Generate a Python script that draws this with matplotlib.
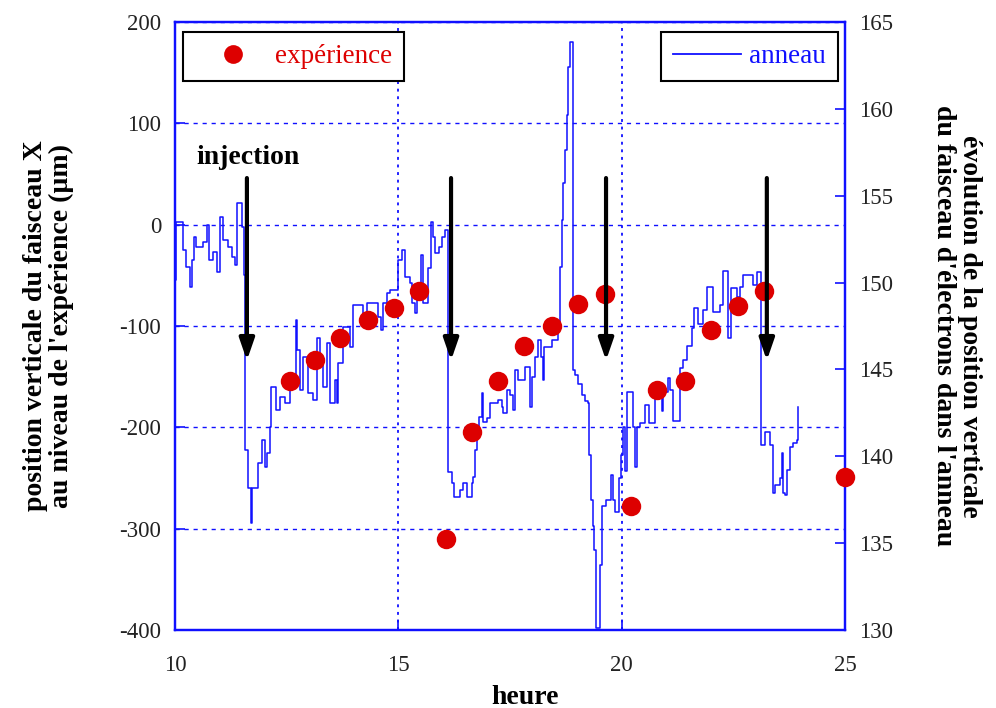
import matplotlib
matplotlib.use("Agg")
import matplotlib.pyplot as plt
from matplotlib.lines import Line2D

plt.rcParams['font.family'] = ['Liberation Serif', 'DejaVu Serif']
plt.rcParams['axes.unicode_minus'] = False

# Measured vertical beam position at the experiment (µm)
exp_hours = [12.57, 13.13, 13.69, 14.32, 14.90, 15.46, 16.07, 16.65, 17.23, 17.81,
             18.44, 19.02, 19.63, 20.21, 20.79, 21.42, 22.00, 22.60, 23.19, 25.00]
exp_pos = [-154, -134, -112, -94, -82, -65, -310, -205, -154, -120,
           -100, -78, -68, -278, -163, -154, -104, -80, -65, -249]

# Vertical position of the electron beam in the storage ring (step record)
ring_hours = [
    10.00, 10.02, 10.18, 10.25, 10.34, 10.38, 10.43, 10.47, 10.63, 10.72,
    10.76, 10.85, 10.94, 11.01, 11.07, 11.19, 11.28, 11.34, 11.39, 11.50,
    11.54, 11.57, 11.63, 11.70, 11.72, 11.86, 11.95, 12.01, 12.06, 12.13,
    12.15, 12.26, 12.35, 12.46, 12.57, 12.71, 12.73, 12.80, 12.87, 12.98,
    13.09, 13.18, 13.25, 13.31, 13.40, 13.47, 13.58, 13.63, 13.65, 13.76,
    13.92, 13.99, 14.21, 14.30, 14.54, 14.61, 14.66, 14.75, 14.81, 14.99,
    15.08, 15.15, 15.26, 15.31, 15.37, 15.42, 15.51, 15.55, 15.66, 15.73,
    15.78, 15.82, 15.91, 15.98, 16.04, 16.11, 16.20, 16.25, 16.38, 16.45,
    16.54, 16.65, 16.67, 16.72, 16.76, 16.81, 16.87, 16.90, 16.99, 17.05,
    17.23, 17.32, 17.34, 17.43, 17.50, 17.57, 17.61, 17.68, 17.84, 17.95,
    17.99, 18.06, 18.13, 18.19, 18.24, 18.26, 18.44, 18.57, 18.62, 18.66,
    18.69, 18.73, 18.78, 18.80, 18.84, 18.91, 18.96, 19.02, 19.11, 19.18,
    19.25, 19.27, 19.31, 19.36, 19.38, 19.43, 19.51, 19.55, 19.65, 19.76,
    19.81, 19.85, 19.94, 19.98, 20.02, 20.04, 20.07, 20.12, 20.25, 20.30,
    20.34, 20.41, 20.52, 20.61, 20.75, 20.90, 20.92, 21.04, 21.08, 21.15,
    21.31, 21.37, 21.46, 21.57, 21.62, 21.72, 21.83, 21.92, 22.05, 22.20,
    22.27, 22.38, 22.44, 22.58, 22.65, 22.72, 22.94, 23.03, 23.12, 23.21,
    23.32, 23.39, 23.43, 23.55, 23.59, 23.61, 23.66, 23.70, 23.77, 23.84,
    23.92, 23.95,
]
ring_pos = [
    150.15, 153.49, 151.87, 150.90, 149.74, 151.30, 152.62, 152.05, 152.34, 153.31,
    151.30, 151.76, 150.61, 153.77, 152.45, 152.05, 151.47, 151.01, 154.58, 153.20,
    150.44, 140.36, 138.17, 136.16, 138.17, 139.61, 140.94, 139.38, 140.19, 141.68,
    143.99, 142.66, 143.41, 143.07, 144.22, 147.85, 146.12, 143.82, 145.71, 143.64,
    143.24, 146.81, 145.37, 143.99, 146.52, 143.07, 144.39, 143.07, 145.37, 147.44,
    146.29, 148.71, 148.02, 148.82, 148.02, 147.27, 148.82, 149.40, 149.57, 151.30,
    151.87, 150.32, 149.97, 148.82, 148.25, 149.00, 151.59, 148.82, 150.84, 153.49,
    152.62, 151.70, 152.05, 152.62, 153.03, 139.09, 138.46, 137.66, 138.06, 138.46,
    137.66, 138.46, 138.81, 140.36, 141.34, 142.26, 143.64, 141.97, 142.20, 143.07,
    143.24, 142.84, 142.49, 143.82, 143.53, 142.66, 144.97, 144.39, 145.14, 142.84,
    144.56, 145.71, 146.69, 145.71, 144.39, 146.29, 146.69, 147.27, 150.90, 153.60,
    155.73, 157.63, 159.65, 162.41, 163.85, 144.97, 144.68, 144.16, 143.53, 143.18,
    143.07, 140.07, 137.48, 135.99, 134.60, 130.10, 133.74, 137.14, 137.48, 138.92,
    137.48, 136.79, 138.75, 140.07, 140.99, 141.68, 139.15, 143.70, 141.68, 139.38,
    141.68, 141.92, 142.95, 141.92, 143.70, 142.61, 143.70, 144.51, 143.82, 142.03,
    145.08, 145.54, 146.35, 147.38, 148.54, 147.62, 148.42, 149.74, 148.31, 148.71,
    150.67, 146.81, 149.69, 149.17, 149.74, 150.44, 149.86, 150.61, 140.65, 141.40,
    140.65, 137.89, 138.35, 138.75, 140.19, 137.89, 137.77, 139.21, 140.53, 140.76,
    140.94, 142.84,
]

# Injection times (h)
injection_hours = [11.61, 16.18, 19.65, 23.25]

left_ticks = [200, 100, 0, -100, -200, -300, -400]
right_ticks = [165, 160, 155, 150, 145, 140, 135, 130]
x_ticks = [10, 15, 20, 25]

BLUE = '#1010ff'
RED = '#dd0000'

fig = plt.figure(figsize=(9.96, 7.08), dpi=100)
ax = fig.add_axes([175 / 996, 1 - 630 / 708, 670 / 996, 608 / 708])
ax2 = ax.twinx()

# ring trace on the right axis
ax2.plot(ring_hours, ring_pos, drawstyle='steps-post', color=BLUE, lw=1.1)
ax2.set_ylim(130, 165)
ax2.set_yticks(right_ticks)

# experiment points on the left axis, drawn above the ring trace
ax.set_zorder(ax2.get_zorder() + 1)
ax.patch.set_visible(False)
ax.plot(exp_hours, exp_pos, 'o', color=RED, ms=14, mec='none', clip_on=False, zorder=5)
ax.set_xlim(10, 25)
ax.set_ylim(-400, 200)
ax.set_yticks(left_ticks)
ax.set_xticks(x_ticks)

ax.yaxis.grid(True, color=BLUE, linestyle=(0, (3, 3.5)), lw=1.0)
ax.xaxis.grid(True, color=BLUE, linestyle=(0, (1.6, 2.6)), lw=1.3)

for a in (ax, ax2):
    for s in a.spines.values():
        s.set_color(BLUE)
        s.set_linewidth(1.6)
    a.tick_params(direction='in', length=7, width=1.2, color=BLUE,
                  labelsize=16.5, labelcolor='#222222')
ax.tick_params(axis='y', pad=10)
ax.tick_params(axis='x', pad=18)
ax2.tick_params(axis='y', pad=10)

ax.set_xlabel('heure', fontsize=20, fontweight='bold')
ax.xaxis.set_label_coords(0.522, -0.09)
ax.set_ylabel("position verticale du faisceau X\nau niveau de l'expérience (µm)",
              fontsize=20, fontweight='bold', linespacing=1.05)
ax.yaxis.set_label_coords(-0.150, 0.5)
ax2.set_ylabel("évolution de la position verticale\ndu faisceau d'électrons dans l'anneau",
               fontsize=20, fontweight='bold', rotation=270, linespacing=1.05)
ax2.yaxis.set_label_coords(1.205, 0.5)

# injection arrows
for h in injection_hours:
    ax.annotate('', xy=(h, -134), xytext=(h, 46),
                arrowprops=dict(arrowstyle='-|>,head_length=1.3,head_width=0.45',
                                lw=3, color='black', shrinkA=0, shrinkB=0),
                zorder=6)
ax.text(10.47, 66, 'injection', fontsize=20, fontweight='bold',
        ha='left', va='center', zorder=6)

# legends
leg1 = ax.legend([Line2D([], [], ls='none', marker='o', color=RED, ms=13.5, mec='none')],
                 ['expérience'], loc='upper left', bbox_to_anchor=(0.0119, 0.9836),
                 frameon=True, fancybox=False, edgecolor='black', framealpha=1,
                 fontsize=19.5, handlelength=2.8, handletextpad=0.15, borderpad=0.45,
                 borderaxespad=0)
leg1.get_frame().set_linewidth(1.5)
for t in leg1.get_texts():
    t.set_color(RED)
ax.add_artist(leg1)

leg2 = ax.legend([Line2D([], [], color=BLUE, lw=1.3)], ['anneau'],
                 loc='upper right', bbox_to_anchor=(0.9896, 0.9836),
                 frameon=True, fancybox=False, edgecolor='black', framealpha=1,
                 fontsize=19.5, handlelength=2.5, handletextpad=0.3, borderpad=0.45,
                 borderaxespad=0)
leg2.get_frame().set_linewidth(1.5)
for t in leg2.get_texts():
    t.set_color(BLUE)

fig.savefig('out.png', dpi=100)
